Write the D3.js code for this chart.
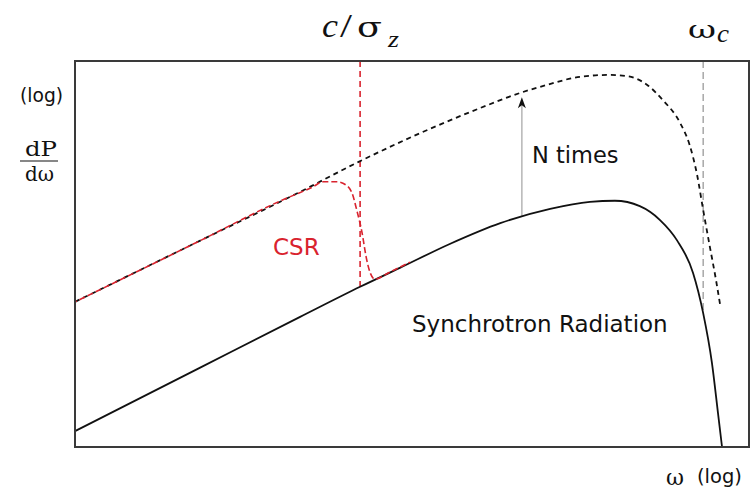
<!DOCTYPE html>
<html>
<head>
<meta charset="utf-8">
<script src="https://cdn.jsdelivr.net/npm/d3@7/dist/d3.min.js"></script>
<style>
  html, body { margin: 0; padding: 0; background: #fff; }
  svg { display: block; }
</style>
</head>
<body>
<svg id="chart" width="751" height="489"></svg>
<script>
// Spectrum in arbitrary log units: x = log(omega), y = log(dP/domega)
const synchrotron = [
  [0, 4.1], [18.5, 20.5], [33.4, 33.7], [42.3, 41.5], [48.2, 46.4],
  [55.6, 52.6], [63.1, 58.0], [70.5, 61.7], [76.4, 63.5], [80.1, 63.8],
  [83.8, 62.4], [86.8, 58.8], [89.3, 53.6], [91.7, 45.1], [93.2, 34.7],
  [94.5, 21.8], [95.4, 8.8], [96.0, 0]
];
const nTimes = [
  [0, 37.6], [18.5, 53.4], [33.4, 66.1], [42.0, 73.8], [51.2, 81.3],
  [60.1, 87.8], [66.0, 91.7], [70.0, 93.8], [74.9, 95.9], [79.4, 96.4],
  [81.9, 96.1], [84.9, 93.8], [87.2, 89.9], [89.8, 83.9], [91.2, 78.2],
  [92.3, 70.5], [93.2, 61.4], [94.2, 51.8], [95.1, 43.3], [95.7, 37.0]
];
const csr = [
  [0, 37.6], [18.5, 53.4], [30.4, 63.7], [35.3, 67.4], [36.8, 68.7],
  [38.9, 68.7], [40.4, 67.6], [41.1, 65.8], [41.8, 61.4], [42.6, 55.4],
  [43.2, 49.2], [43.8, 45.1], [44.5, 43.5], [46.7, 45.3], [49.7, 47.9]
];
// Characteristic frequencies: bunch-length cutoff and critical frequency
const bunchCutoff = { x: 42.3, yTop: 100, yBottom: 41.5 };
const criticalFreq = { x: 93.2, yTop: 100, yBottom: 34.7 };
// Enhancement arrow between incoherent and coherent spectra
const enhancement = { x: 66.3, from: 59.8, to: 90.6 };

const svg = d3.select("#chart");
const frame = { left: 75, top: 61, right: 749, bottom: 447 };

const x = d3.scaleLinear().domain([0, 100]).range([frame.left, frame.right]);
const y = d3.scaleLinear().domain([0, 100]).range([frame.bottom, frame.top]);

const line = d3.line()
  .x(d => x(d[0]))
  .y(d => y(d[1]))
  .curve(d3.curveMonotoneX);

const red = "#d9232e";

// Vertical marker lines
svg.append("line")
  .attr("x1", x(criticalFreq.x)).attr("x2", x(criticalFreq.x))
  .attr("y1", y(criticalFreq.yTop)).attr("y2", y(criticalFreq.yBottom))
  .attr("stroke", "#9a9a9a").attr("stroke-width", 1.3)
  .attr("stroke-dasharray", "7,4");

svg.append("line")
  .attr("x1", x(bunchCutoff.x)).attr("x2", x(bunchCutoff.x))
  .attr("y1", y(bunchCutoff.yTop)).attr("y2", y(bunchCutoff.yBottom))
  .attr("stroke", red).attr("stroke-width", 1.6)
  .attr("stroke-dasharray", "6,4");

// Enhancement arrow
svg.append("line")
  .attr("x1", x(enhancement.x)).attr("x2", x(enhancement.x))
  .attr("y1", y(enhancement.from)).attr("y2", y(enhancement.to) + 8)
  .attr("stroke", "#b5b5b5").attr("stroke-width", 1.5);
{
  const tx = x(enhancement.x), ty = y(enhancement.to);
  svg.append("path")
    .attr("d", `M${tx},${ty} L${tx - 4},${ty + 11} L${tx},${ty + 8} L${tx + 4},${ty + 11} Z`)
    .attr("fill", "#111");
}

// Coherent (N times) spectrum
svg.append("path")
  .datum(nTimes)
  .attr("d", line)
  .attr("fill", "none")
  .attr("stroke", "#111")
  .attr("stroke-width", 1.8)
  .attr("stroke-dasharray", "5,4");

// Incoherent synchrotron spectrum
svg.append("path")
  .datum(synchrotron)
  .attr("d", line)
  .attr("fill", "none")
  .attr("stroke", "#111")
  .attr("stroke-width", 1.8);

// CSR spectrum
svg.append("path")
  .datum(csr)
  .attr("d", line)
  .attr("fill", "none")
  .attr("stroke", red)
  .attr("stroke-width", 1.6)
  .attr("stroke-dasharray", "6,3")
  .attr("stroke-dashoffset", 4);

// Plot frame
svg.append("rect")
  .attr("x", frame.left).attr("y", frame.top)
  .attr("width", frame.right - frame.left)
  .attr("height", frame.bottom - frame.top)
  .attr("fill", "none")
  .attr("stroke", "#3a3a3a")
  .attr("stroke-width", 2);

const sans = "'DejaVu Sans', Verdana, sans-serif";
const serif = "'Liberation Serif', 'DejaVu Serif', serif";
const wideSerif = "'DejaVu Serif', 'Liberation Serif', serif";

// Serif glyph placed at a given left edge and fitted to a given width
function glyph(str, left, base, size, width, italic, family) {
  return svg.append("text")
    .attr("x", left).attr("y", base)
    .attr("font-family", family || serif).attr("font-size", size)
    .attr("font-style", italic ? "italic" : "normal")
    .attr("fill", "#111")
    .attr("textLength", width).attr("lengthAdjust", "spacingAndGlyphs")
    .text(str);
}

// Curve labels
svg.append("text").attr("x", 532).attr("y", 163)
  .attr("font-family", sans).attr("font-size", 22.5).attr("fill", "#111")
  .text("N times");
svg.append("text").attr("x", 273).attr("y", 255)
  .attr("font-family", sans).attr("font-size", 23).attr("fill", red)
  .text("CSR");
svg.append("text").attr("x", 412).attr("y", 332)
  .attr("font-family", sans).attr("font-size", 23).attr("fill", "#111")
  .text("Synchrotron Radiation");

// Frequency markers above the frame
glyph("c", 322, 37, 33, 16, true);
glyph("/", 340, 37, 33, 12, false);
glyph("σ", 357, 37, 28, 25, false, wideSerif);
glyph("z", 388, 47, 23, 11, true);

glyph("ω", 688, 38, 25, 28, false, wideSerif);
glyph("c", 717, 42, 25, 12, true);

// Axis labels
svg.append("text").attr("x", 20).attr("y", 102)
  .attr("font-family", sans).attr("font-size", 18.7).attr("fill", "#111")
  .text("(log)");
glyph("dP", 25, 156, 19.5, 32, false, wideSerif);
svg.append("line").attr("x1", 20).attr("x2", 58).attr("y1", 161).attr("y2", 161)
  .attr("stroke", "#111").attr("stroke-width", 1.2);
glyph("dω", 25, 181, 19.5, 29, false, wideSerif);

glyph("ω", 666, 485, 22, 18, false, wideSerif);
svg.append("text").attr("x", 697).attr("y", 483)
  .attr("font-family", sans).attr("font-size", 19.5).attr("fill", "#111")
  .text("(log)");
</script>
</body>
</html>
